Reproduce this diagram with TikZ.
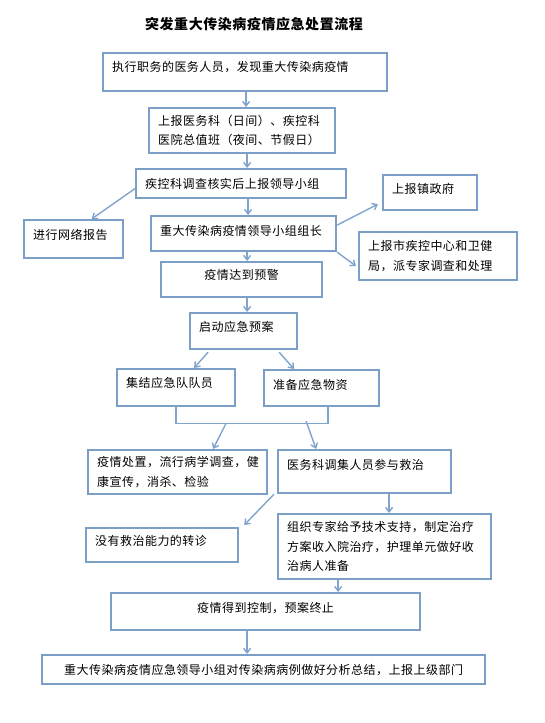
\documentclass[tikz,border=0pt]{standalone}
\usepackage{fontspec}
\newfontfamily\cnfont{Noto Sans CJK SC}[LetterSpace=4]
\usetikzlibrary{arrows.meta,calc}
\definecolor{flowedge}{RGB}{124,159,200}
\definecolor{flowarrow}{RGB}{128,164,206}
\tikzset{
  fl/.style={font=\cnfont\fontsize{12}{19.5}\selectfont, text=black},
  flbox/.style 2 args={
    fl, draw=flowedge, line width=2.2pt, anchor=north west,
    minimum width=#1, minimum height=#2, text width=#1-18,
    align=left, inner xsep=9pt, inner ysep=0pt
  },
  flmid/.style={align=center},
  flup/.style={text height=9pt, text depth=#1},
  flarr/.style={-{Straight Barb[length=4.5pt,width=7pt]}, line width=1.4pt, draw=flowarrow},
  flline/.style={line width=1.4pt, draw=flowarrow},
  fltitle/.style={font=\cnfont\bfseries\fontsize{14}{16}\selectfont},
}

\begin{document}
\begin{tikzpicture}[x=1pt, y=-1pt]
  \useasboundingbox (0,0) rectangle (544,723);

  \node[fltitle] (title) at (254,24) {突发重大传染病疫情应急处置流程};

  \node[flbox={284}{38}, flup=11pt] (discover) at (102,52)
    {执行职务的医务人员，发现重大传染病疫情};
  \node[flbox={186}{45}] (report) at (148,107)
    {上报医务科（日间）、疾控科\\医院总值班（夜间、节假日）};
  \node[flbox={210}{29}] (verify) at (135,168) {疾控科调查核实后上报领导小组};
  \node[flbox={94}{35}, flup=7pt] (town) at (382,174) {上报镇政府};
  \node[flbox={99}{38}, flup=8pt] (network) at (23,219) {进行网络报告};
  \node[flbox={185}{35}, flup=5pt] (leader) at (150,215) {重大传染病疫情领导小组组长};
  \node[flbox={158}{48}] (city) at (358,231)
    {上报市疾控中心和卫健\\局，派专家调查和处理};
  \node[flbox={161}{35}, flup=9pt, flmid] (warning) at (160,261) {疫情达到预警};
  \node[flbox={107}{36}, flup=8pt] (plan) at (189,312) {启动应急预案};
  \node[flbox={118}{37}, flup=9pt] (team) at (116,368) {集结应急队队员};
  \node[flbox={115}{36}, flup=6pt] (supply) at (263,369) {准备应急物资};
  \node[flbox={179}{44}] (handle) at (87,449)
    {疫情处置，流行病学调查，健\\康宣传，消杀、检验};
  \node[flbox={173}{43}, flup=13pt] (treat) at (277,449) {医务科调集人员参与救治};
  \node[flbox={152}{34}, flup=8pt] (transfer) at (85,527) {没有救治能力的转诊};
  \node[flbox={213}{65}] (expert) at (277,513)
    {组织专家给予技术支持，制定治疗\\方案收入院治疗，护理单元做好收\\治病人准备};
  \node[flbox={309}{37}, flup=7pt, flmid] (control) at (110,592) {疫情得到控制，预案终止};
  \node[flbox={443}{29}, flmid] (summary) at (41,654)
    {重大传染病疫情应急领导小组对传染病病例做好分析总结，上报上级部门};

  % main line
  \draw[flarr] ([xshift=1]discover.south) -- ([xshift=1]discover.south |- report.north);
  \draw[flarr] ([xshift=5]report.south) -- ([xshift=5]report.south |- verify.north);
  \draw[flarr] ([xshift=7]verify.south) -- ([xshift=7]verify.south |- leader.north);
  \draw[flarr] ([yshift=-5]verify.west) -- ([xshift=18]network.north);
  \draw[flarr] ([yshift=8.5]leader.east) -- ([xshift=-4,yshift=-11.5]town.west);
  \draw[flarr] (leader.south east) -- ([xshift=-2,yshift=-10]city.west);
  \draw[flarr] ([xshift=3.5]leader.south) -- ([xshift=3.5]leader.south |- warning.north);
  \draw[flarr] ([xshift=5.5]warning.south) -- ([xshift=5.5]warning.south |- plan.north);
  \draw[flarr] ([xshift=-35.5,yshift=-2]plan.south) -- ([xshift=18]team.north);
  \draw[flarr] ([xshift=35.5,yshift=-2]plan.south) -- ([xshift=-27.5]supply.north);

  % team + supply join
  \draw[flline] (team.south) -- ++(0,16) coordinate (joinL) -| ([xshift=6.5]supply.south);
  \draw[flarr] ([xshift=50]joinL) -- ([xshift=35.5]handle.north);
  \draw[flarr] ([xshift=130,yshift=2]joinL) -- ([xshift=-48.5]treat.north);

  \draw[flarr] ([xshift=-3]treat.south west) -- ([xshift=5,yshift=2]transfer.north east);
  \draw[flarr] ([xshift=24.5]treat.south) -- ([xshift=24.5]treat.south |- expert.north);
  \draw[flarr] ([xshift=-46.5]expert.south) -- ([xshift=-46.5]expert.south |- control.north);
  \draw[flarr] ([xshift=-18.5]control.south) -- ([xshift=-18.5]control.south |- summary.north);
\end{tikzpicture}
\end{document}
